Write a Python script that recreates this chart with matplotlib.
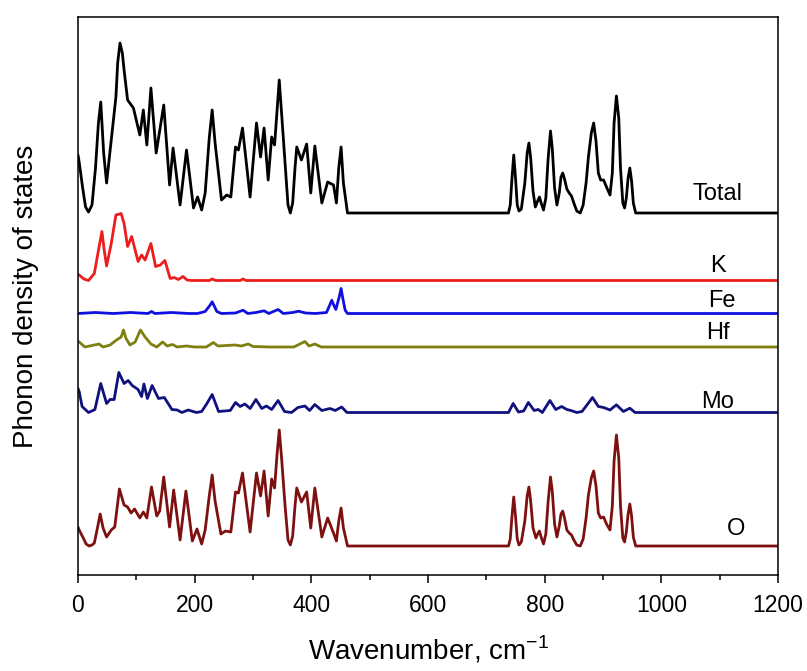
import matplotlib
matplotlib.use("Agg")
import matplotlib.pyplot as plt
from matplotlib.ticker import MultipleLocator

plt.rcParams['font.family'] = ['Liberation Sans', 'DejaVu Sans']

# Curves: wavenumber (cm-1) and height above each curve's baseline
total_x = [0, 2, 8, 13, 18, 24, 30, 35, 39, 44, 49, 57, 65, 68, 72, 76, 79, 85, 95, 106, 112, 118, 125, 134,
           147, 157, 163, 175, 186, 198, 205, 212, 218, 225, 230, 235, 246, 255, 262, 270, 275, 282, 295, 306,
           313, 319, 326, 332, 337, 341, 345, 349, 355, 360, 364, 368, 372, 375, 383, 392, 399, 406, 418, 428,
           438, 443, 447, 451, 455, 462,
           738, 741, 744, 747, 750, 753, 756, 760, 766, 770, 773, 776, 780, 784, 788, 791, 794, 798, 802, 806,
           810, 813, 817, 821, 825, 828, 831, 834, 838, 842, 846, 850, 855, 861, 866, 871, 875, 880, 884, 888,
           892, 896, 901, 906, 912, 916, 919, 923, 927, 930, 934, 937, 940, 943, 946, 949, 952, 956, 1200]
total_y = [58, 51, 25, 6, 1, 8, 45, 90, 111, 60, 30, 73, 116, 150, 170, 160, 143, 113, 105, 78, 103, 68, 125, 60,
           108, 28, 65, 8, 63, 5, 16, 3, 20, 75, 103, 70, 13, 18, 16, 66, 63, 85, 16, 90,
           56, 85, 33, 76, 68, 100, 133, 100, 50, 8, 0, 10, 45, 66, 53, 69, 20, 67, 10, 31,
           28, 10, 45, 66, 30, 0,
           0, 8, 35, 58, 35, 8, 2, 4, 30, 60, 70, 55, 22, 6, 12, 16, 10, 3, 15, 55,
           82, 65, 25, 8, 20, 36, 40, 34, 24, 20, 17, 10, 2, 0, 8, 30, 56, 80, 90, 72,
           40, 33, 33, 26, 18, 40, 90, 117, 95, 45, 10, 5, 15, 35, 45, 32, 10, 0, 0]

k_x = [0, 2, 10, 18, 28, 35, 41, 45, 49, 57, 65, 74, 79, 85, 92, 103, 109, 115, 125, 133, 141, 149, 158, 165,
       172, 180, 187, 195, 225, 230, 236, 278, 283, 288, 1200]
k_y = [6, 5.5, 1.5, 0, 7, 30, 49, 30, 14.5, 37, 65.5, 67, 57, 34, 44, 19, 25.5, 20.5, 37, 14, 15.5, 20, 2, 3,
       1, 4, 0.5, 0, 0, 1.5, 0, 0, 1.5, 0, 0]

fe_x = [0, 30, 60, 90, 120, 126, 132, 160, 190, 205, 218, 226, 230, 234, 238, 246, 270, 283, 291, 305, 319, 327,
        343, 352, 368, 378, 390, 407, 426, 432, 435, 438, 442, 448, 451, 454, 458, 462, 1200]
fe_y = [0, 1, 0, 1, 0, 2, 0, 1, 0, 0, 2, 8, 11.7, 7, 2, 0, 0.5, 3.3, 0, 1, 2.7, 0,
        4, 0, 1, 2.3, 0.5, 0, 1, 9, 13.3, 9, 4, 17, 25, 15, 3.3, 0, 0]

hf_x = [0, 2, 12, 36, 43, 55, 66, 74, 78, 82, 89, 98, 107, 115, 125, 135, 145, 153, 162, 170, 186, 200, 220, 232,
        240, 255, 269, 280, 292, 300, 330, 370, 389, 396, 406, 417, 1200]
hf_y = [6, 5, 0, 3, 0, 2, 7, 10, 17, 9, 2, 5, 17, 10, 3, 0, 5, 1, 2.5, 0, 1, 0, 0, 4.5,
        1, 1.5, 2, 1, 3, 0.5, 0, 0, 5.5, 1, 3, 0, 0]

mo_x = [0, 2, 7, 18, 29, 39, 49, 55, 62, 70, 79, 86, 93, 103, 109, 113, 119, 127, 138, 148, 161, 170, 178, 189,
        203, 212, 221, 230, 241, 261, 270, 278, 286, 295, 305, 315, 323, 332, 343, 354, 366, 377, 389, 397, 406,
        418, 432, 441, 452, 461, 738, 746, 755, 764, 772, 782, 789, 796, 809, 819, 829, 838, 845, 855, 864, 874,
        882, 892, 901, 912, 923, 935, 946, 955, 1200]
mo_y = [24, 21, 6, 0, 3, 29, 9, 13, 13, 40, 29, 32, 27, 23, 16, 28.5, 14, 27, 14, 15, 3, 2.5, 0, 2.5,
        0, 1, 9, 18, 1, 2, 10, 6, 8.5, 4, 13, 4, 6.5, 3, 12, 1, 0, 5, 6.5, 2, 8,
        2, 4, 2, 5.5, 0, 0, 9, 0.5, 1.5, 10, 2, 3, 0, 12, 3, 6, 3, 2, 0, 1, 8.7,
        15, 6, 5, 2.5, 7.7, 1, 4.3, 0, 0]

o_x = [0, 2, 9, 14, 19, 24, 28, 34, 38, 43, 49, 57, 63, 71, 79, 85, 91, 97, 106, 112, 118, 126, 135, 140, 147,
       157, 164, 175, 185, 196, 204, 212, 218, 225, 230, 235, 245, 253, 262, 270, 275, 282, 295, 306, 313, 319,
       326, 332, 337, 341, 345, 349, 355, 360, 364, 368, 372, 375, 383, 392, 399, 406, 418, 428, 438, 443, 447,
       451, 455, 462,
       738, 741, 744, 747, 750, 753, 756, 760, 766, 770, 773, 776, 780, 785, 788, 791, 794, 798, 802, 806,
       810, 813, 817, 821, 825, 828, 831, 834, 838, 842, 846, 850, 855, 861, 866, 871, 875, 880, 884, 888,
       892, 896, 901, 906, 912, 916, 919, 923, 927, 930, 934, 937, 940, 943, 946, 949, 952, 956, 1200]
o_y = [19, 16, 8, 2, 0, 1, 3, 20, 32, 18, 9, 16, 19, 57, 41, 39, 33, 37, 28, 34, 28, 59, 30, 35, 69,
       19, 56, 6, 55, 5, 17, 2, 16, 50, 71, 45, 12, 15, 14, 54, 53, 73, 14, 73, 50, 75,
       30, 67, 58, 90, 116, 88, 40, 6, 1, 10, 40, 58, 44, 54, 18, 58, 9, 28, 13, 5, 25,
       38, 18, 0,
       0, 7, 30, 49, 30, 7, 1, 4, 25, 50, 59, 45, 18, 8, 12, 15, 9, 2, 12, 45,
       69, 55, 22, 9, 20, 32, 35, 28, 16, 13, 11, 6, 1, 0, 7, 28, 51, 68, 75, 60,
       33, 28, 29, 22, 16, 40, 85, 111, 88, 40, 8, 4, 14, 32, 42, 30, 9, 0, 0]

names = ['Total', 'K', 'Fe', 'Hf', 'Mo', 'O']
offsets = [362, 294.5, 261.5, 228, 162.5, 29]
colors = ['black', '#ee1c1c', '#1010e0', '#7f7f10', '#10107f', '#7f1010']
label_pos = [(1097, 381), (1097, 309), (1103, 274), (1097, 242), (1097, 173), (1128, 46)]

curves = [(total_x, total_y), (k_x, k_y), (fe_x, fe_y), (hf_x, hf_y), (mo_x, mo_y), (o_x, o_y)]

fig = plt.figure(figsize=(8.07, 6.71), dpi=100)
ax = fig.add_axes([78 / 807, (671 - 575) / 671, 700 / 807, 558 / 671])

for (xs, ys), off, c, name, (lx, ly) in zip(curves, offsets, colors, names, label_pos):
    ax.plot(xs, [v + off for v in ys], color=c, lw=2.0, solid_joinstyle='round', solid_capstyle='round')
    ax.text(lx, ly, name, fontsize=17, ha='center', va='center')

ax.set_xlim(0, 1200)
ax.set_ylim(0, 558)
ax.xaxis.set_major_locator(MultipleLocator(200))
ax.xaxis.set_minor_locator(MultipleLocator(100))
ax.set_yticks([])
ax.tick_params(axis='x', which='major', direction='out', length=6, width=1.1, labelsize=16.5, pad=8)
ax.tick_params(axis='x', which='minor', direction='out', length=3.5, width=1.1)
for s in ax.spines.values():
    s.set_linewidth(1.1)

ax.set_xlabel(r'Wavenumber, cm$^{\mathregular{-1}}$', fontsize=20, labelpad=12)
ax.set_ylabel('Phonon density of states', fontsize=20, labelpad=28)

plt.savefig('out.png', dpi=100)
